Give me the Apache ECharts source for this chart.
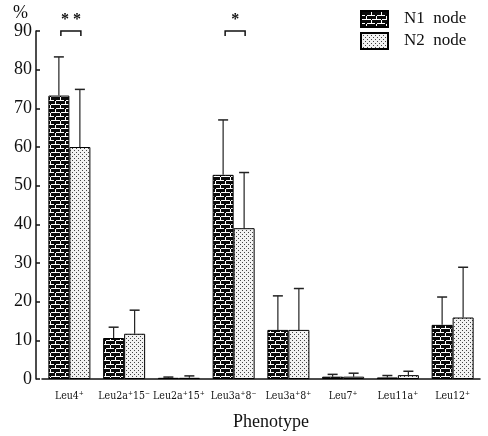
<!DOCTYPE html>
<html><head><meta charset="utf-8">
<script src="https://cdn.jsdelivr.net/npm/echarts@6/dist/echarts.min.js"></script>
<style>html,body{margin:0;padding:0;background:#fff}#c{width:488px;height:436px}</style>
</head><body><div id="c"></div>
<script>
var categories = ['Leu4\u207A','Leu2a\u207A15\u207B','Leu2a\u207A15\u207A','Leu3a\u207A8\u207B','Leu3a\u207A8\u207A','Leu7\u207A','Leu11a\u207A','Leu12\u207A'];
var seriesNames = ['N1  node','N2  node'];
var n1Values = [73.3, 10.6, 0.3, 52.8, 12.7, 0.6, 0.4, 14.0];
var n1ErrTop = [83.3, 13.4, 0.5, 67.0, 21.5, 1.2, 0.9, 21.2];
var n2Values = [60.0, 11.7, 0.3, 39.0, 12.7, 0.6, 1.0, 15.9];
var n2ErrTop = [74.9, 17.8, 0.8, 53.4, 23.4, 1.5, 2.0, 28.9];
var sigCategories = [0, 3];
var sigLabels = ['* *', '*'];
var sigLevel = 90;
var yTicks = [0,10,20,30,40,50,60,70,80,90];

function brick(){
  var c=document.createElement('canvas');c.width=10;c.height=8;var g=c.getContext('2d');
  g.fillStyle='#0a0a0a';g.fillRect(0,0,10,8);
  g.fillStyle='#fff';
  g.fillRect(1,0,9,1);
  g.fillRect(0,1,1,3);
  g.fillRect(0,4,4,1);g.fillRect(6,4,4,1);
  g.fillRect(5,5,1,3);
  return c;
}
function dots(){
  var c=document.createElement('canvas');c.width=4;c.height=4;var g=c.getContext('2d');
  g.fillStyle='#f2f2f2';g.fillRect(0,0,4,4);
  g.fillStyle='#444';g.fillRect(0,0,1,1);g.fillRect(2,2,1,1);
  return c;
}
var pat1={image:brick(),repeat:'repeat'};
var pat2={image:dots(),repeat:'repeat'};
var BW=21;
var serif='"Liberation Serif","DejaVu Serif",serif';

function errSeries(vals, tops, side){
  return {
    type:'custom', silent:true, z:5,
    data: vals.map(function(v,i){return [i,v,tops[i]];}),
    renderItem:function(params,api){
      var a=api.coord([api.value(0),api.value(1)]);
      var b=api.coord([api.value(0),api.value(2)]);
      var x=a[0]+side*BW/2;
      return {type:'group',children:[
        {type:'line',shape:{x1:x,y1:a[1],x2:x,y2:b[1]},style:{stroke:'#222',lineWidth:1.2}},
        {type:'line',shape:{x1:x-5,y1:b[1],x2:x+5,y2:b[1]},style:{stroke:'#222',lineWidth:1.5}}
      ]};
    }
  };
}

var chart=echarts.init(document.getElementById('c'),null,{renderer:'canvas'});
chart.setOption({
  animation:false,
  backgroundColor:'#fff',
  grid:{left:42,right:8,top:31,bottom:53},
  legend:{
    orient:'vertical', left:355, top:5, itemWidth:27, itemHeight:16, itemGap:4,
    icon:'rect',
    data:seriesNames,
    textStyle:{fontFamily:serif,fontSize:17,color:'#111',padding:[0,0,0,11]}
  },
  xAxis:{
    type:'category', data:categories,
    axisLine:{lineStyle:{color:'#111',width:1.5}},
    axisTick:{show:false},
    axisLabel:{fontFamily:'"DejaVu Serif Condensed","Liberation Serif",serif',fontSize:10.5,color:'#111',margin:12,interval:0},
    name:'Phenotype', nameLocation:'middle', nameGap:34,
    nameTextStyle:{fontFamily:serif,fontSize:18,color:'#111',padding:[0,0,0,20]}
  },
  yAxis:{
    type:'value', min:0, max:90, interval:10, offset:6,
    axisLine:{show:true,lineStyle:{color:'#111',width:1.5}},
    axisTick:{show:true,inside:true,length:4,lineStyle:{color:'#111',width:1.5}},
    splitLine:{show:false},
    axisLabel:{fontFamily:serif,fontSize:18,color:'#111',margin:4},
    name:'%', nameLocation:'end', nameGap:6,
    nameTextStyle:{fontFamily:serif,fontSize:18,color:'#111',align:'right',padding:[0,8,0,0]}
  },
  series:[
    {name:seriesNames[0],type:'bar',data:n1Values,barWidth:BW,barGap:'0%',
      itemStyle:{color:pat1,borderColor:'#000',borderWidth:1}},
    {name:seriesNames[1],type:'bar',data:n2Values,barWidth:BW,barGap:'0%',
      itemStyle:{color:pat2,borderColor:'#000',borderWidth:1}},
    errSeries(n1Values,n1ErrTop,-1),
    errSeries(n2Values,n2ErrTop,1),
    {
      type:'custom', silent:true, z:6,
      data: sigCategories.map(function(c,i){return [c,sigLevel,i];}),
      renderItem:function(params,api){
        var p=api.coord([api.value(0),api.value(1)]);
        var x1=p[0]-BW/2+2, x2=p[0]+BW/2+1, y=p[1];
        return {type:'group',children:[
          {type:'polyline',shape:{points:[[x1,y+5],[x1,y],[x2,y],[x2,y+5]]},style:{stroke:'#111',fill:null,lineWidth:1.5}},
          {type:'text',style:{text:sigLabels[api.value(2)],x:(x1+x2)/2,y:y-3,align:'center',verticalAlign:'bottom',fontSize:16,fontWeight:'bold',fill:'#111',fontFamily:serif}}
        ]};
      }
    }
  ]
});
</script></body></html>
